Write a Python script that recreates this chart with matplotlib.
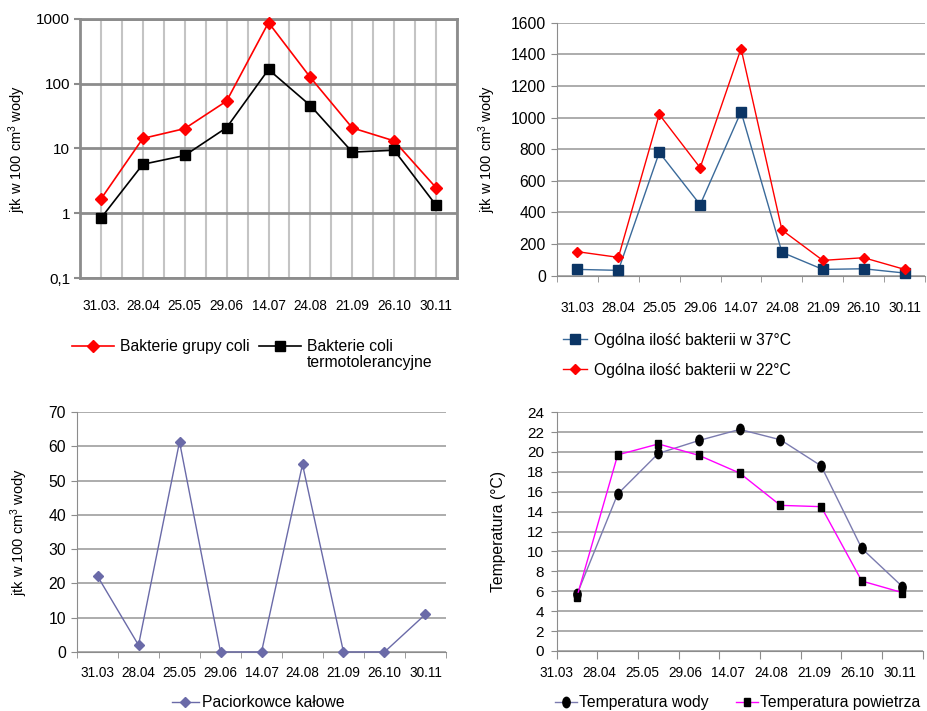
import numpy as np
import matplotlib.pyplot as plt
from matplotlib.markers import MarkerStyle
from matplotlib.transforms import Affine2D
from matplotlib.ticker import NullLocator

plt.rcParams["font.family"] = ["Liberation Sans", "DejaVu Sans"]
plt.rcParams["mathtext.fontset"] = "custom"
plt.rcParams["mathtext.rm"] = "Liberation Sans"
plt.rcParams["mathtext.it"] = "Liberation Sans:italic"
plt.rcParams["mathtext.bf"] = "Liberation Sans:bold"

# sampling dates
dates_coli = ["31.03.", "28.04", "25.05", "29.06", "14.07", "24.08", "21.09", "26.10", "30.11"]
dates = ["31.03", "28.04", "25.05", "29.06", "14.07", "24.08", "21.09", "26.10", "30.11"]

# jtk / 100 cm3 (log scale chart)
coli_total = [1.66, 14.3, 20.3, 54, 880, 125, 20.8, 13.1, 2.48]
coli_thermo = [0.84, 5.7, 7.8, 21, 166, 46, 8.8, 9.4, 1.33]

# total bacteria count
bact_37 = [40, 34, 780, 449, 1037, 148, 40, 44, 17]
bact_22 = [152, 116, 1020, 683, 1437, 289, 97, 114, 40]

# faecal streptococci
strepto = [22.1, 2.0, 61.3, 0, 0, 54.7, 0, 0, 11.0]

# temperatures
temp_water = [5.69, 15.77, 19.85, 21.15, 22.26, 21.22, 18.6, 10.3, 6.46]
temp_air = [5.46, 19.7, 20.8, 19.65, 17.87, 14.63, 14.5, 7.03, 5.86]

YLAB = "jtk w 100 cm$^{3}$ wody"
GRID = "#A6A6A6"
AXC = "#8C8C8C"

x = np.arange(len(dates))
fig = plt.figure(figsize=(9.27, 7.11), dpi=100)


def legend_at(ax, xf, yf, **kw):
    opts = dict(loc="upper left", bbox_to_anchor=(xf, yf), bbox_transform=fig.transFigure,
                frameon=False, borderpad=0, borderaxespad=0, fontsize=11.3)
    opts.update(kw)
    return ax.legend(**opts)


# --- top left: coliform bacteria, log scale ---
ax1 = fig.add_axes([0.0863, 0.609, 0.4067, 0.3643])
ax1.plot(x, coli_total, color="#FF0000", lw=1.2, marker="D", ms=6.5,
         label="Bakterie grupy coli", clip_on=False, zorder=3)
ax1.plot(x, coli_thermo, color="black", lw=1.2, marker="s", ms=6.5,
         label="Bakterie coli", clip_on=False, zorder=4)
ax1.set_yscale("log")
ax1.set_ylim(0.1, 1000)
ax1.set_xlim(-0.5, 8.5)
ax1.set_yticks([0.1, 1, 10, 100, 1000], labels=["0,1", "1", "10", "100", "1000"])
ax1.yaxis.set_minor_locator(NullLocator())
ax1.set_xticks(x, labels=dates_coli)
ax1.set_xticks(np.arange(-0.5, 9, 1), minor=True)
ax1.set_axisbelow(True)
ax1.grid(axis="x", which="both", color="#C4C4C4", lw=1.5)
ax1.grid(axis="y", which="major", color=AXC, lw=2)
ax1.tick_params(axis="x", which="both", length=0, pad=15, labelsize=9.8)
ax1.tick_params(axis="y", length=4, color=AXC, width=1.5, labelsize=11, pad=3)
for s in ax1.spines.values():
    s.set_color(AXC)
    s.set_linewidth(2)
ax1.set_ylabel(YLAB, fontsize=10.5)
ax1.yaxis.set_label_coords(-0.138, 0.5)
leg1 = legend_at(ax1, 0.0777, 0.523, ncol=2, handlelength=2.7, handletextpad=0.35, columnspacing=0.6)

# --- top right: total bacteria ---
ax2 = fig.add_axes([0.6009, 0.6122, 0.397, 0.3558])
ax2.plot(x, bact_37, color="#3A6A9A", lw=1.0, marker="s", ms=6.5, mfc="#0B3565", mec="#0B3565",
         label="Ogólna ilość bakterii w 37°C", clip_on=False, zorder=3)
ax2.plot(x, bact_22, color="#FF0000", lw=1.0, marker="D", ms=5.5,
         label="Ogólna ilość bakterii w 22°C", clip_on=False, zorder=4)
ax2.set_ylim(0, 1600)
ax2.set_xlim(-0.5, 8.5)
ax2.set_yticks(np.arange(0, 1601, 200))
ax2.set_xticks(x, labels=dates)
ax2.set_xticks(np.arange(-0.5, 9, 1), minor=True)
ax2.set_axisbelow(True)
ax2.grid(axis="y", color=GRID, lw=1.3)
ax2.tick_params(axis="x", which="major", length=0, pad=18, labelsize=9.8)
ax2.tick_params(axis="x", which="minor", length=4, color=AXC)
ax2.tick_params(axis="y", length=4, color=AXC, labelsize=11.3, pad=4)
for k in ["top", "right"]:
    ax2.spines[k].set_visible(False)
for k in ["left", "bottom"]:
    ax2.spines[k].set_color(AXC)
ax2.set_ylabel(YLAB, fontsize=10.5)
ax2.yaxis.set_label_coords(-0.16, 0.5)
legend_at(ax2, 0.6073, 0.532, ncol=1, handlelength=1.5, handletextpad=0.5, labelspacing=0.95)

# --- bottom left: faecal streptococci ---
ax3 = fig.add_axes([0.0831, 0.083, 0.398, 0.3376])
ax3.plot(x, strepto, color="#6A6AA8", lw=1.0, marker="D", ms=5.5,
         label="Paciorkowce kałowe", clip_on=False, zorder=3)
ax3.set_ylim(0, 70)
ax3.set_xlim(-0.5, 8.5)
ax3.set_yticks(np.arange(0, 71, 10))
ax3.set_xticks(x, labels=dates)
ax3.set_xticks(np.arange(-0.5, 9, 1), minor=True)
ax3.set_axisbelow(True)
ax3.grid(axis="y", color=GRID, lw=1.3)
ax3.tick_params(axis="x", which="major", length=0, pad=10, labelsize=9.8)
ax3.tick_params(axis="x", which="minor", length=4, color=AXC)
ax3.tick_params(axis="y", length=4, color=AXC, labelsize=11.3, pad=4)
for k in ["top", "right"]:
    ax3.spines[k].set_visible(False)
for k in ["left", "bottom"]:
    ax3.spines[k].set_color(AXC)
ax3.set_ylabel(YLAB, fontsize=10.5)
ax3.yaxis.set_label_coords(-0.127, 0.5)
legend_at(ax3, 0.1855, 0.0115, loc="center left", handlelength=1.7, handletextpad=0.2)

# --- bottom right: temperatures ---
ax4 = fig.add_axes([0.6005, 0.0844, 0.395, 0.336])
xt = x + 0.5
circle = MarkerStyle("o", transform=Affine2D().scale(0.7, 1.0))
rect = MarkerStyle("s", transform=Affine2D().scale(0.7, 1.0))
ax4.plot(xt, temp_water, color="#7B7BAF", lw=1.0, marker=circle, ms=7.5, mfc="black", mec="black",
         label="Temperatura wody", zorder=3)
ax4.plot(xt, temp_air, color="#FF00FF", lw=1.0, marker=rect, ms=5.5, mfc="black", mec="black",
         label="Temperatura powietrza", zorder=4)
ax4.set_ylim(0, 24)
ax4.set_xlim(0, 9)
ax4.set_yticks(np.arange(0, 25, 2))
ax4.xaxis.remove_overlapping_locs = False
ax4.set_xticks(np.arange(0, 10, 1), labels=[])
ax4.set_xticks(np.arange(9) * 1.054, labels=dates, minor=True)
ax4.set_axisbelow(True)
ax4.grid(axis="y", which="major", color=GRID, lw=1.3)
ax4.tick_params(axis="x", which="major", length=6, color=AXC)
ax4.tick_params(axis="x", which="minor", length=0, pad=11, labelsize=9.8)
ax4.tick_params(axis="y", length=4, color=AXC, labelsize=11, pad=5)
for k in ["top", "right"]:
    ax4.spines[k].set_visible(False)
for k in ["left", "bottom"]:
    ax4.spines[k].set_color(AXC)
ax4.set_ylabel("Temperatura (°C)", fontsize=11.3)
ax4.yaxis.set_label_coords(-0.139, 0.5)
legend_at(ax4, 0.5987, 0.0115, loc="center left", ncol=2, handlelength=1.4,
          handletextpad=0.15, columnspacing=1.7)

# second line of the thermotolerant label, under "Bakterie coli"
fig.canvas.draw()
bb = leg1.get_texts()[1].get_window_extent()
fig.text(bb.x0 / fig.bbox.width, (bb.y0 - 1) / fig.bbox.height, "termotolerancyjne",
         fontsize=11.3, ha="left", va="top")

fig.savefig("out.png", dpi=100)
